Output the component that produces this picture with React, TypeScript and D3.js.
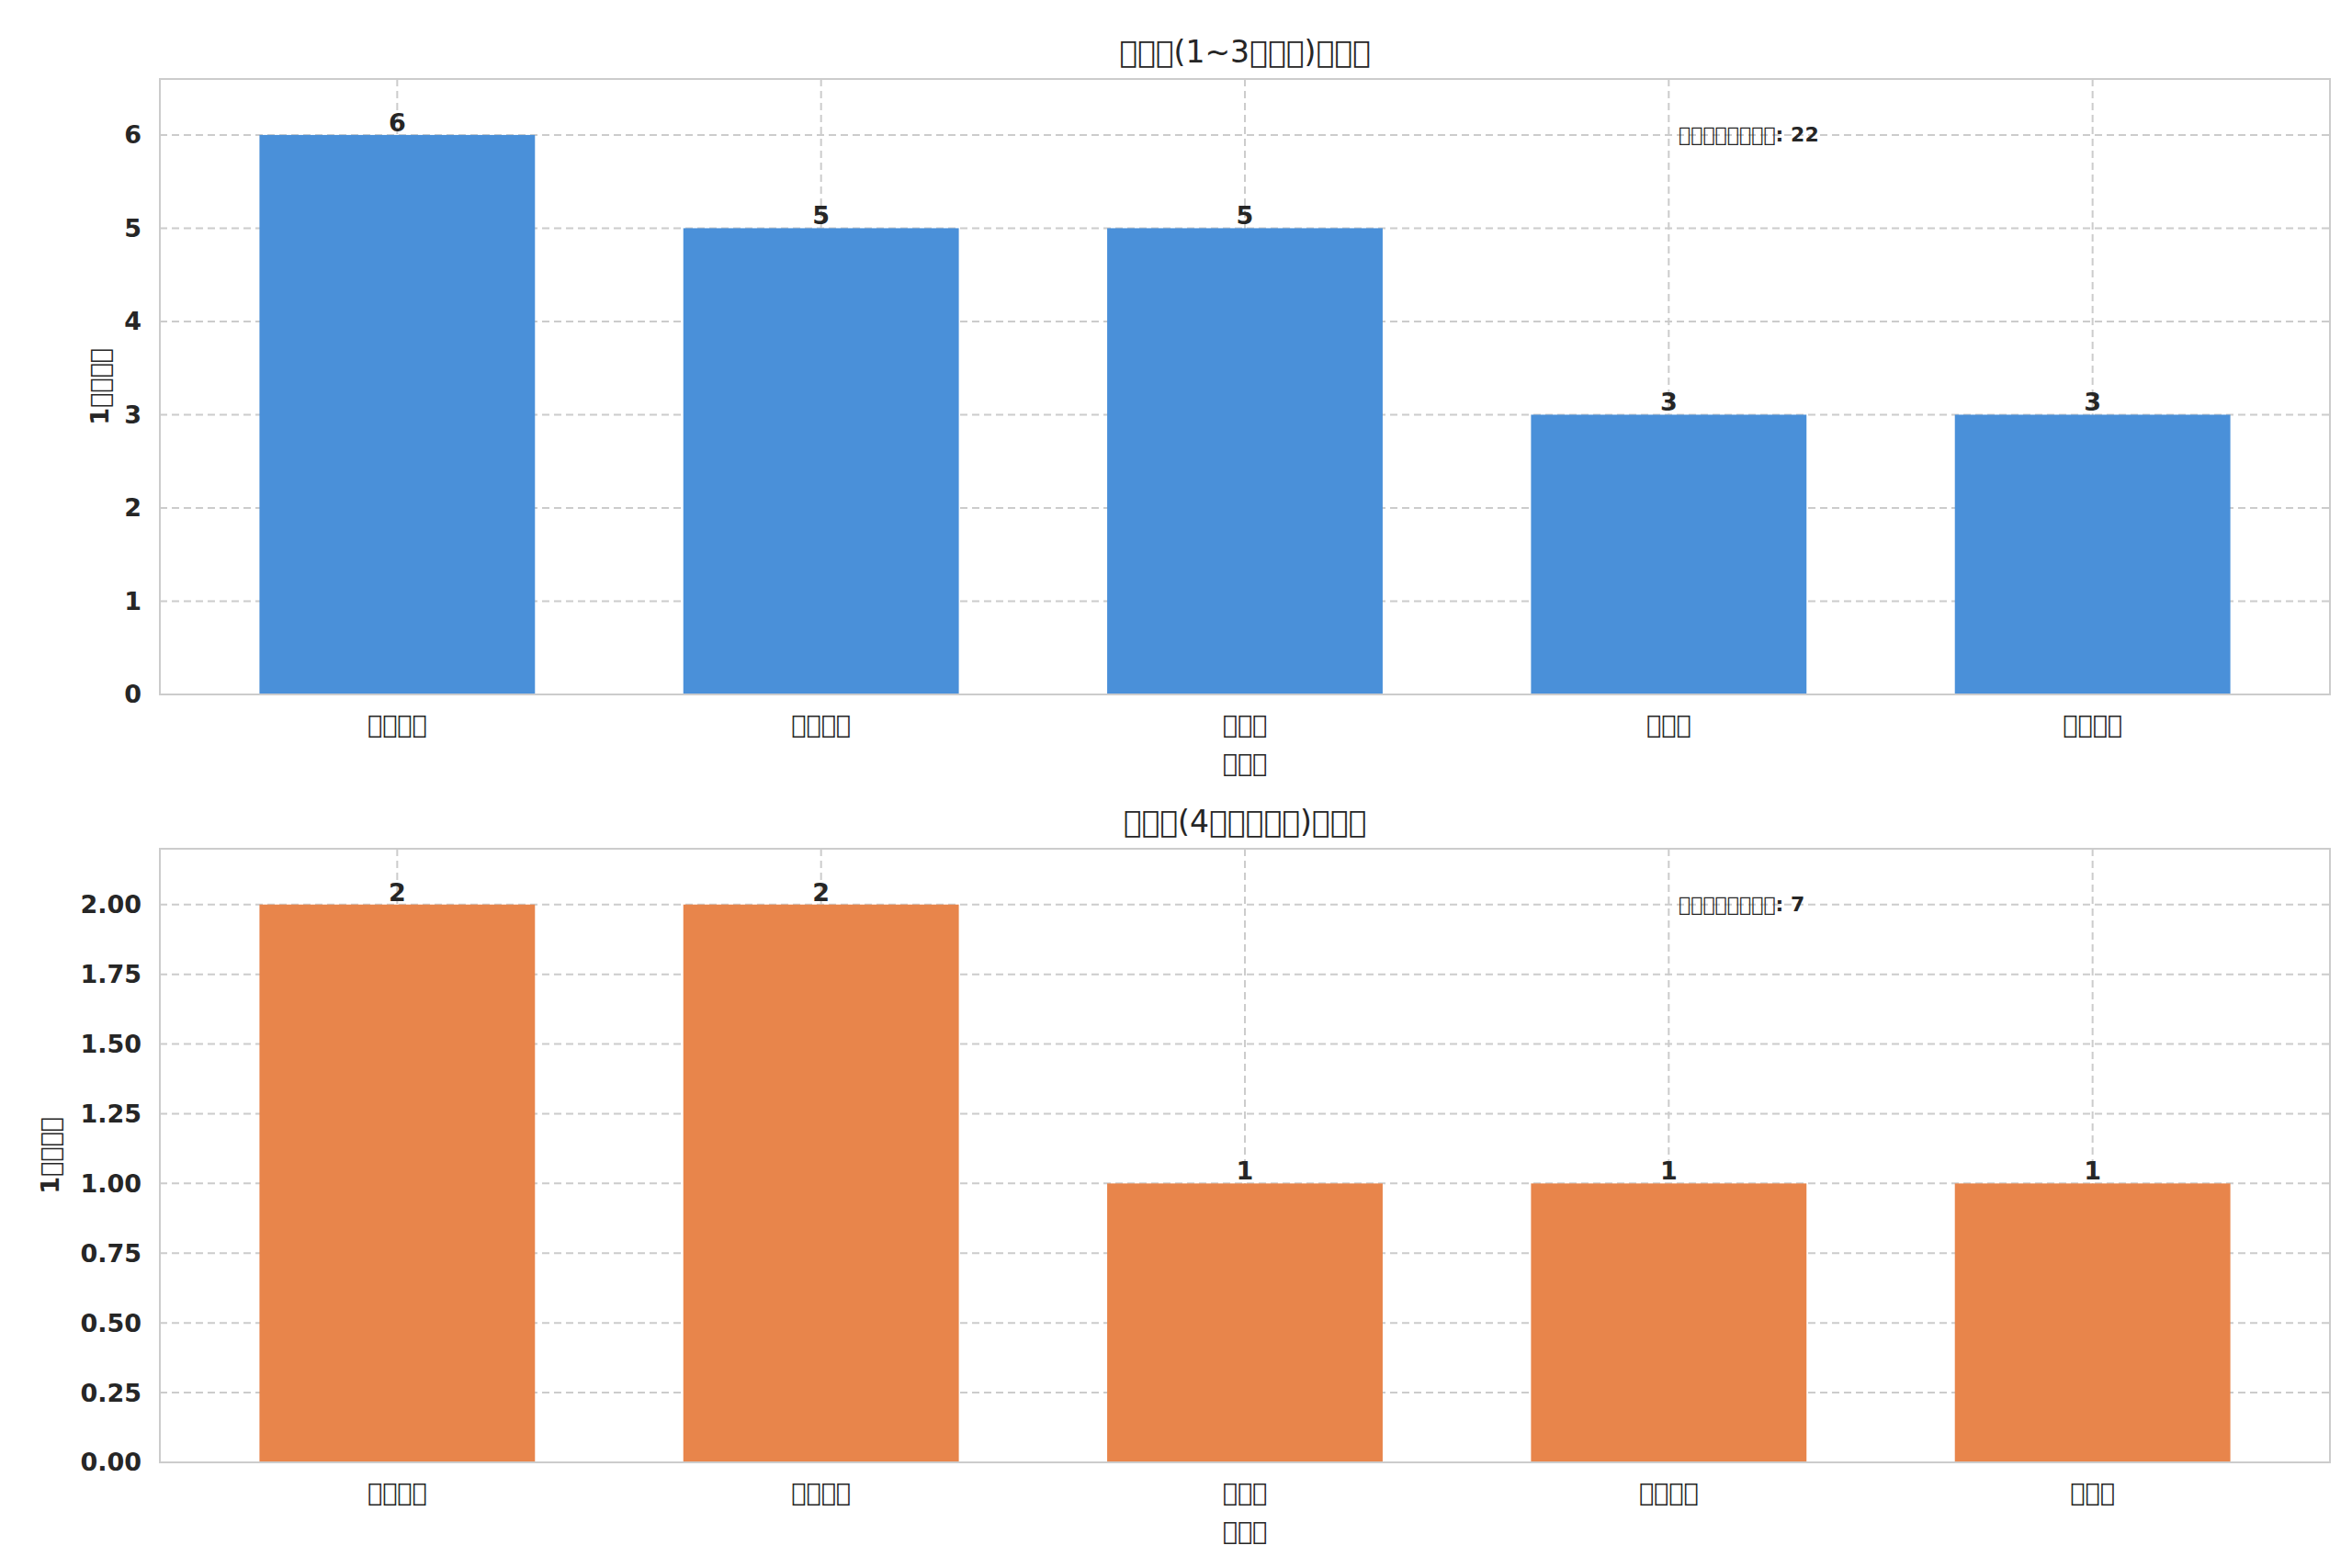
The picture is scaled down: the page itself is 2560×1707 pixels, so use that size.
import React from "react";
import * as d3 from "d3";

const T = "\uE000";
const box = (n: number) => T.repeat(n);

const topCategories = [box(4), box(4), box(3), box(3), box(4)];
const topValues = [6, 5, 5, 3, 3];
const topTicks = [0, 1, 2, 3, 4, 5, 6];
const bottomCategories = [box(4), box(4), box(3), box(4), box(3)];
const bottomValues = [2, 2, 1, 1, 1];
const bottomTicks = [0, 0.25, 0.5, 0.75, 1, 1.25, 1.5, 1.75, 2];
const topTitle = `${box(3)}(1~3${box(3)})${box(3)}`;
const bottomTitle = `${box(3)}(4${box(5)})${box(3)}`;
const topNote = `${box(8)}: 22`;
const bottomNote = `${box(8)}: 7`;
const yLabel = `1${box(4)}`;
const xLabel = box(3);

const FONT = "'DejaVu Sans', sans-serif";

function Panel(props: {
  top: number; bottom: number; cats: string[]; vals: number[]; ticks: number[];
  ymax: number; fmt: (v: number) => string; color: string; title: string; note: string; yLabelX: number;
}) {
  const L = 166, R = 2528;
  const { top, bottom } = props;
  const x = d3.scaleLinear().domain([-0.56, 4.56]).range([L, R]);
  const y = d3.scaleLinear().domain([0, props.ymax]).range([bottom, top]);
  const bw = (x(1) - x(0)) * 0.65;
  return (
    <g fontFamily={FONT}>
      {props.ticks.map((t) => (
        <line key={"gy" + t} x1={L} x2={R} y1={y(t)} y2={y(t)} stroke="#cccccc" strokeWidth={2} strokeDasharray="8,5" />
      ))}
      {props.cats.map((c, i) => (
        <line key={"gx" + i} x1={x(i)} x2={x(i)} y1={top} y2={bottom} stroke="#cccccc" strokeWidth={2} strokeDasharray="8,5" />
      ))}
      {props.vals.map((v, i) => (
        <rect key={"b" + i} x={x(i) - bw / 2} width={bw} y={y(v)} height={y(0) - y(v)} fill={props.color} />
      ))}
      {props.vals.map((v, i) => (
        <text key={"v" + i} x={x(i)} y={y(v) - 4} textAnchor="middle" fontSize={27} fontWeight="bold" fill="#262626">{v}</text>
      ))}
      <rect x={L} y={top} width={R - L} height={bottom - top} fill="none" stroke="#cccccc" strokeWidth={2} />
      {props.ticks.map((t) => (
        <text key={"ty" + t} x={L - 20} y={y(t)} dy="0.35em" textAnchor="end" fontSize={27} fontWeight="bold" fill="#262626">{props.fmt(t)}</text>
      ))}
      {props.cats.map((c, i) => (
        <text key={"tx" + i} x={x(i)} y={bottom + 42} textAnchor="middle" fontSize={27} fill="#262626">{c}</text>
      ))}
      <text x={(L + R) / 2} y={bottom + 84} textAnchor="middle" fontSize={27} fill="#262626">{xLabel}</text>
      <text transform={`translate(${props.yLabelX},${(top + bottom) / 2}) rotate(-90)`} textAnchor="middle" dy="0.35em" fontSize={27} fontWeight="bold" fill="#262626">{yLabel}</text>
      <text x={(L + R) / 2} y={top - 18} textAnchor="middle" fontSize={33} fill="#262626">{props.title}</text>
      <text x={1819} y={top + 60} dy="0.35em" fontSize={22} fontWeight="bold" fill="#262626">{props.note}</text>
    </g>
  );
}

export default function App() {
  return (
    <svg width={2560} height={1707} style={{ display: "block", background: "#fff" }}>
      <Panel top={78} bottom={748} cats={topCategories} vals={topValues} ticks={topTicks} ymax={6.6}
        fmt={(v) => String(v)} color="#4a90d9" title={topTitle} note={topNote} yLabelX={101} />
      <Panel top={916} bottom={1584} cats={bottomCategories} vals={bottomValues} ticks={bottomTicks} ymax={2.2}
        fmt={(v) => v.toFixed(2)} color="#e8854b" title={bottomTitle} note={bottomNote} yLabelX={47} />
    </svg>
  );
}
